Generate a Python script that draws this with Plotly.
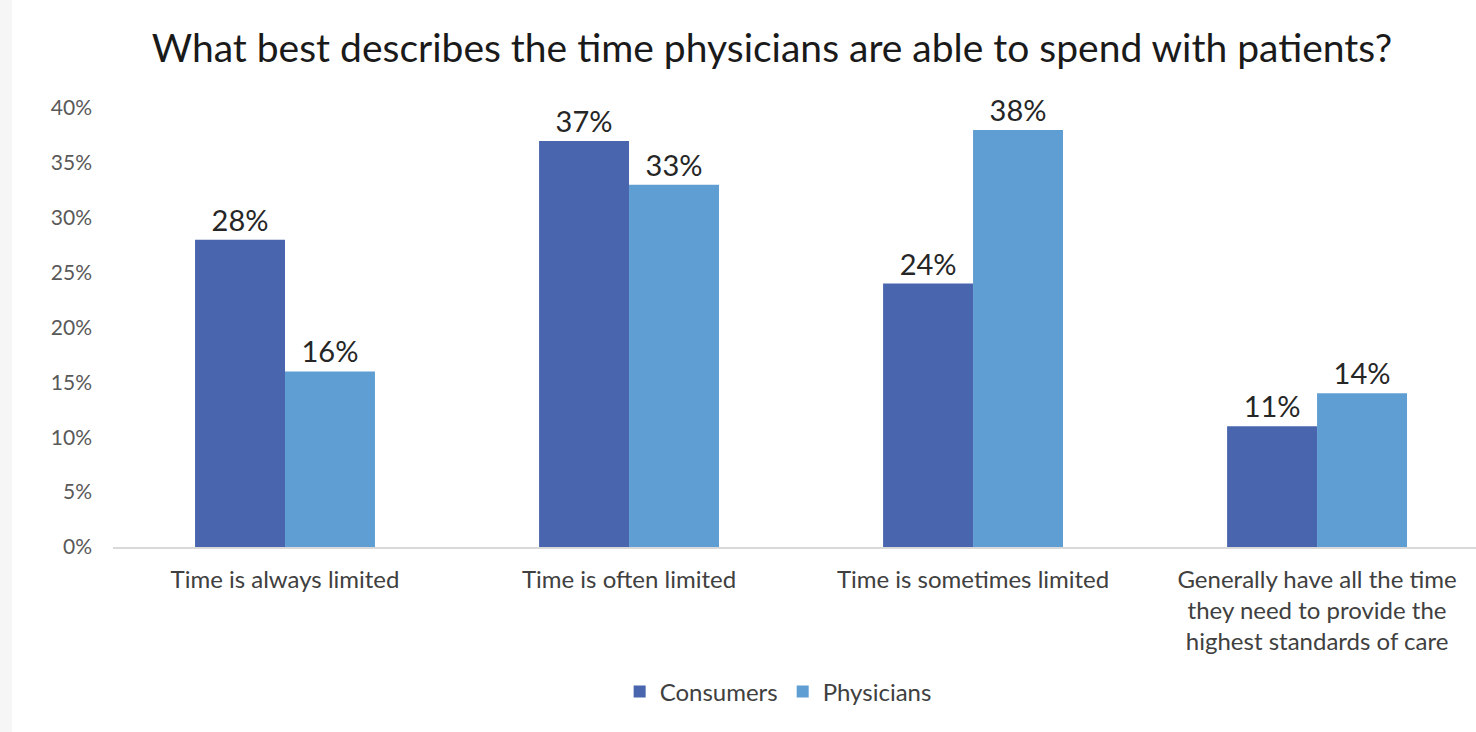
import plotly.graph_objects as go

categories = ["Time is always limited", "Time is often limited", "Time is sometimes limited",
              "Generally have all the time<br>they need to provide the<br>highest standards of care"]
consumers = [28, 37, 24, 11]
physicians = [16, 33, 38, 14]
y_ticks = [0, 5, 10, 15, 20, 25, 30, 35, 40]
y_ticklabels = [f"{v}%" for v in y_ticks]

fig = go.Figure()
fig.add_trace(go.Bar(
    name="Consumers", x=categories, y=consumers, marker_color="#4865AD",
    marker_line_width=0,
    text=[f"{v}%" for v in consumers], textposition="outside",
    textfont=dict(size=29, color="#262626", family="Lato"), cliponaxis=False))
fig.add_trace(go.Bar(
    name="Physicians", x=categories, y=physicians, marker_color="#5F9ED3",
    marker_line_width=0,
    text=[f"{v}%" for v in physicians], textposition="outside",
    textfont=dict(size=29, color="#262626", family="Lato"), cliponaxis=False))

fig.update_layout(
    width=1476, height=732,
    paper_bgcolor="white", plot_bgcolor="white",
    barmode="group", bargap=0.477, bargroupgap=0,
    margin=dict(l=113, r=0, t=108, b=185),
    title=dict(text="What best describes the time physicians are able to spend with patients?",
               x=0.523, xanchor="center", y=0.934, yanchor="middle",
               font=dict(family="Lato", size=39, color="#1a1a1a")),
    legend=dict(orientation="h", x=0.488, xanchor="center", y=-0.33, yanchor="middle",
                font=dict(family="Lato", size=24, color="#404040"),
                traceorder="normal", itemwidth=30),
    showlegend=True,
    font=dict(family="Lato"),
    shapes=[dict(type="rect", xref="paper", yref="paper",
                 x0=-113/1363, x1=-101/1363, y0=-185/439, y1=1 + 108/439,
                 fillcolor="#F6F6F6", line_width=0, layer="below")],
)
fig.update_xaxes(
    range=[-0.5, 3.462], showline=True, linecolor="#D9D9D9", linewidth=1.5,
    ticks="", tickfont=dict(family="Lato", size=24, color="#404040"),
    showgrid=False, ticklabelstandoff=10)
fig.update_yaxes(
    range=[0, 40], tickvals=y_ticks, ticktext=y_ticklabels,
    showgrid=False, zeroline=False, showline=False,
    tickfont=dict(family="Lato", size=21, color="#595959"), ticklabelstandoff=20)

fig.write_html("out.html")
